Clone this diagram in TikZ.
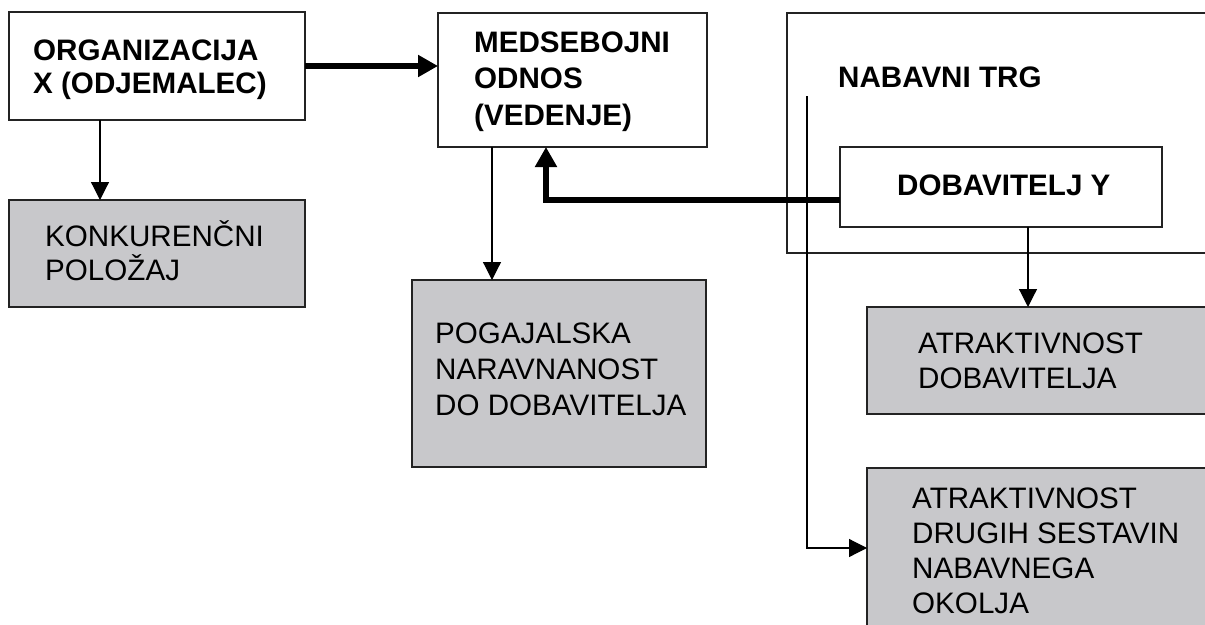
\documentclass[tikz,border=0pt]{standalone}
\usepackage{fontspec}
\setmainfont{Liberation Sans}
\usetikzlibrary{arrows.meta,calc}
\definecolor{boxgray}{RGB}{200,200,203}
\definecolor{edge}{RGB}{35,35,35}
\tikzset{
  box/.style={draw=edge, line width=1.2pt, fill=white, anchor=north west, inner sep=0pt, outer sep=0pt},
  graybox/.style={box, fill=boxgray},
  txt/.style={anchor=base west, inner sep=0pt, align=left, font=\fontsize{29.6}{35}\selectfont},
  btxt/.style={txt, font=\fontsize{29.6}{35}\selectfont\bfseries},
  thin/.style={line width=1.2pt, -{Triangle[width=18pt,length=18pt]}},
  thick/.style={line width=5.5pt, -{Triangle[width=21pt,length=20pt]}},
}
\begin{document}
\begin{tikzpicture}[x=1pt,y=-1pt]
\useasboundingbox (0,0) rectangle (1205,624);
\begin{scope}
\clip (0,0) rectangle (1205,624);
% boxes
\node[box, minimum width=296pt, minimum height=108pt] (org) at (9,12) {};
\node[box, minimum width=269pt, minimum height=134pt] (med) at (438,13) {};
\node[box, minimum width=430pt, minimum height=240pt] (trg) at (787,13) {};
\node[box, minimum width=322pt, minimum height=80pt] (dob) at (840,147) {};
\node[graybox, minimum width=296pt, minimum height=107pt] (konk) at (9,200) {};
\node[graybox, minimum width=294pt, minimum height=187pt] (pog) at (412,280) {};
\node[graybox, minimum width=350pt, minimum height=107pt] (atr1) at (867,307) {};
\node[graybox, minimum width=350pt, minimum height=160pt] (atr2) at (867,468) {};
% texts (anchor = baseline of last line)
\node[btxt, font=\fontsize{29.6}{33}\selectfont\bfseries] (torg) at (33,93) {ORGANIZACIJA\\X (ODJEMALEC)};
\node[btxt, font=\fontsize{29.6}{36.5}\selectfont\bfseries] (tmed) at (474,125) {MEDSEBOJNI\\ODNOS\\(VEDENJE)};
\node[btxt] (ttrg) at (838,87) {NABAVNI TRG};
\node[btxt] (tdob) at (897,195) {DOBAVITELJ Y};
\node[txt, font=\fontsize{29.6}{34}\selectfont] (tkonk) at (45,280) {KONKUREN\v{C}NI\\POLO\v{Z}AJ};
\node[txt, font=\fontsize{29.6}{36}\selectfont] (tpog) at (435,415) {POGAJALSKA\\NARAVNANOST\\DO DOBAVITELJA};
\node[txt] (tatr1) at (918,388) {ATRAKTIVNOST\\DOBAVITELJA};
\node[txt] (tatr2) at (912,613) {ATRAKTIVNOST\\DRUGIH SESTAVIN\\NABAVNEGA\\OKOLJA};
% connectors
\coordinate (trgline) at (807,96);
\draw[thick] (org.east) -- (org.east -| med.west);
\draw[thin] ([xshift=91pt]org.south west) -- ([xshift=91pt]org.south west |- konk.north);
\draw[thin] ([xshift=54pt]med.south west) -- ([xshift=54pt]med.south west |- pog.north);
\draw[thick] ([yshift=-13pt]dob.west) -- ([yshift=-13pt]dob.west -| 546,0) -- ([xshift=108pt]med.south west);
\draw[thin] ([xshift=188pt]dob.south west) -- ([xshift=188pt]dob.south west |- atr1.north);
\draw[thin] (trgline) |- (atr2.west);
\end{scope}
\end{tikzpicture}
\end{document}
